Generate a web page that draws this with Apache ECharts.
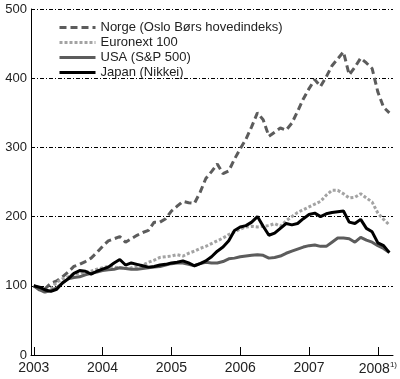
<!DOCTYPE html>
<html><head><meta charset="utf-8">
<script src="https://cdn.jsdelivr.net/npm/echarts@6/dist/echarts.min.js"></script>
<style>html,body{margin:0;padding:0;background:#fff}#c{width:400px;height:379px}</style>
</head><body><div id="c"></div>
<script>
const startYear = 2003;
const seriesNames = ["Norge (Oslo Børs hovedindeks)", "Euronext 100", "USA (S&P 500)", "Japan (Nikkei)"];
const yearTicks = [2003, 2004, 2005, 2006, 2007, 2008];
const yTicks = [0, 100, 200, 300, 400, 500];
// monthly values, Jan 2003 .. Mar 2008
const norge = [100,97,96,104,107,113,120,128,131,135,140,148,157,165,168,171,163,168,173,177,180,192,192,197,208,215,222,220,219,235,255,265,276,262,266,283,298,312,330,350,340,316,322,328,325,335,352,370,385,398,388,402,418,428,438,405,416,429,422,414,380,358,350];
const euronext = [100,95,90,96,105,110,113,117,118,120,121,124,126,128,127,126,125,126,128,130,134,137,141,142,143,145,143,147,150,154,157,161,165,169,174,178,182,185,186,185,186,187,190,186,194,200,206,210,214,218,222,231,238,238,233,227,228,233,227,221,205,196,188];
const usa = [100,94,91,93,97,104,110,112,113,116,118,120,122,123,124,126,125,124,124,125,126,127,128,130,132,133,133,131,129,132,134,133,133,135,139,140,142,143,144,145,144,140,141,143,147,150,153,156,158,159,157,157,163,169,169,168,163,170,166,163,158,154,148];
const japan = [100,98,94,92,95,104,110,118,122,121,117,121,124,127,133,138,130,133,131,129,127,128,130,131,133,134,136,133,129,132,136,142,150,156,165,180,185,187,192,200,186,173,176,183,190,188,190,197,203,205,200,204,206,207,208,192,190,196,183,178,162,158,148];

function toPairs(arr){ return arr.map((v,i)=>[startYear + i/12, v]); }

const chart = echarts.init(document.getElementById('c'), null, {renderer:'canvas'});
const font = 'Liberation Sans, Arial, sans-serif';
chart.setOption({
  animation:false,
  backgroundColor:'#fff',
  grid:{left:31, right:6, top:9, bottom:24, containLabel:false},
  legend:{
    orient:'vertical', left:53, top:15, itemWidth:36, itemHeight:12, itemGap:0,
    itemStyle:{opacity:0},
    lineStyle:{width:3},
    textStyle:{color:'#222', fontSize:13, fontFamily:font, lineHeight:15},
    data: seriesNames
  },
  xAxis:{
    type:'value', min:2002.96, max:2008.22,
    axisLine:{show:true, lineStyle:{color:'#000', width:1}},
    axisTick:{show:true, inside:true, length:8, lineStyle:{color:'#000'}, customValues:yearTicks},
    axisLabel:{
      customValues:yearTicks, color:'#222', fontSize:14, fontFamily:font, margin:6,
      formatter:function(v){ return v===2008 ? '2008{s|1)}' : String(v); },
      rich:{s:{fontSize:8, verticalAlign:'top', padding:[0,0,8,0], color:'#222', fontFamily:font}}
    },
    splitLine:{show:false}
  },
  yAxis:{
    type:'value', min:0, max:500, interval:100,
    axisLine:{show:true, lineStyle:{color:'#000', width:1}},
    axisTick:{show:false},
    axisLabel:{color:'#222', fontSize:13, fontFamily:font, margin:4},
    splitLine:{show:true, lineStyle:{color:'#000', width:1, type:[4,2,1,2]}}
  },
  series:[
    {name:seriesNames[0], type:'line', symbol:'none', data:toPairs(norge),
     lineStyle:{color:'#5c5c5c', width:3, type:[7,4]}, itemStyle:{color:'#5c5c5c'}},
    {name:seriesNames[1], type:'line', symbol:'none', data:toPairs(euronext),
     lineStyle:{color:'#a3a3a3', width:3, type:[3,2]}, itemStyle:{color:'#a3a3a3'}},
    {name:seriesNames[2], type:'line', symbol:'none', data:toPairs(usa),
     lineStyle:{color:'#5c5c5c', width:3}, itemStyle:{color:'#5c5c5c'}},
    {name:seriesNames[3], type:'line', symbol:'none', data:toPairs(japan),
     lineStyle:{color:'#000', width:3}, itemStyle:{color:'#000'}}
  ]
});
</script></body></html>
